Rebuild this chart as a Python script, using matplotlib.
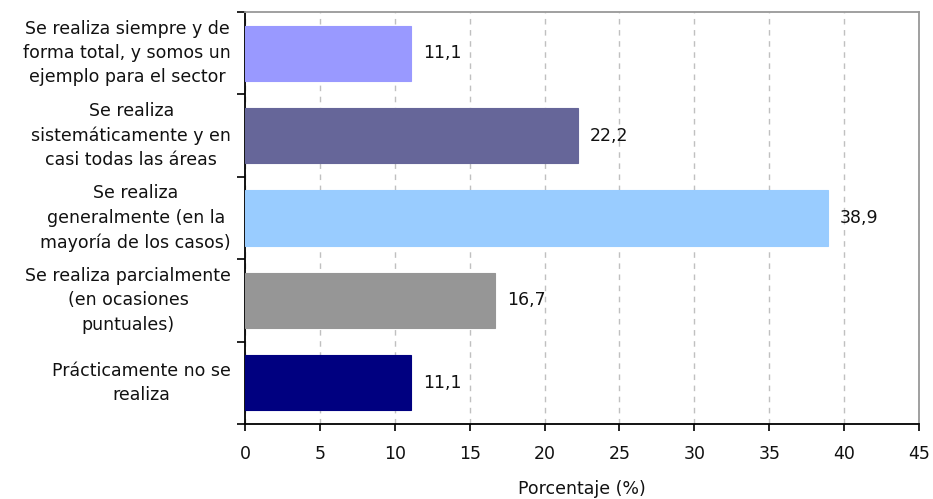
import matplotlib
matplotlib.use("Agg")
import matplotlib.pyplot as plt
import numpy as np

plt.rcParams['font.family'] = ['DejaVu Sans']

categories = [
    "Se realiza siempre y de\nforma total, y somos un\nejemplo para el sector",
    "Se realiza\nsistemáticamente y en\ncasi todas las áreas",
    "Se realiza\ngeneralmente (en la\nmayoría de los casos)",
    "Se realiza parcialmente\n(en ocasiones\npuntuales)",
    "Prácticamente no se\nrealiza",
]
values = [11.1, 22.2, 38.9, 16.7, 11.1]
value_labels = ["11,1", "22,2", "38,9", "16,7", "11,1"]
colors = ["#9999FF", "#666699", "#99CCFF", "#969696", "#000080"]
x_ticks = [0, 5, 10, 15, 20, 25, 30, 35, 40, 45]

FS = 12.5
TXT = '#111111'

fig = plt.figure(figsize=(9.33, 4.99), dpi=100)
ax = fig.add_axes([245/933, 1-424/499, (919-245)/933, (424-12)/499])

n = len(categories)
ypos = np.arange(n)
ax.barh(ypos, values, height=0.67, color=colors, edgecolor=colors, linewidth=0.8, zorder=3)

for y, v, lab in zip(ypos, values, value_labels):
    ax.annotate(lab, xy=(v, y), xytext=(8.5, 0), textcoords='offset points',
                va='center', ha='left', fontsize=FS, color=TXT, zorder=4)

ax.set_xlim(0, 45)
ax.set_ylim(n - 0.5, -0.5)
ax.set_xticks(x_ticks)
ax.set_xticklabels([str(t) for t in x_ticks], fontsize=FS, color=TXT)
ax.tick_params(axis='x', direction='out', length=5, width=1.2, pad=10, color='black')

# category labels beside each bar; axis ticks mark the category boundaries
ax.set_yticks(np.arange(n + 1) - 0.5)
ax.set_yticklabels([])
ax.tick_params(axis='y', direction='out', length=6, width=1.2, color='black')
for y, cat in zip(ypos, categories):
    ax.annotate(cat, xy=(0, y), xycoords=ax.get_yaxis_transform(),
                xytext=(-10, 0), textcoords='offset points',
                ha='right', va='center', multialignment='center',
                fontsize=FS, linespacing=1.45, color=TXT)

ax.xaxis.grid(True, linestyle=(0, (4, 4)), color='#C0C0C0', linewidth=1, zorder=0)
ax.set_axisbelow(True)

for side in ['left', 'bottom']:
    ax.spines[side].set_color('black')
    ax.spines[side].set_linewidth(1.3)
for side in ['top', 'right']:
    ax.spines[side].set_color('#999999')
    ax.spines[side].set_linewidth(1.3)

ax.set_xlabel("Porcentaje (%)", fontsize=FS, labelpad=12, color=TXT)

fig.savefig("out.png", dpi=100)
